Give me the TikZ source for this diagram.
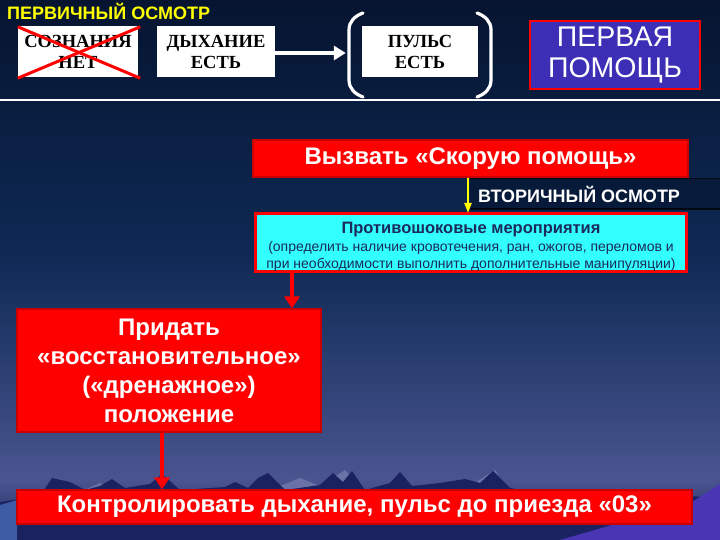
\documentclass[tikz,border=0pt]{standalone}
\usepackage{fontspec}
\setmainfont{Liberation Sans}
\newfontfamily\tnr{Liberation Serif}
\usetikzlibrary{arrows.meta}
\definecolor{bgtop}{HTML}{061430}
\definecolor{bgmid}{HTML}{0E2A55}
\definecolor{bghor}{HTML}{4A5590}
\definecolor{bgground}{HTML}{1C2660}
\definecolor{mount}{HTML}{1A2360}
\definecolor{snow}{HTML}{6A72A8}
\definecolor{lila}{HTML}{4A36B5}
\definecolor{slope}{HTML}{3D5AA5}
\definecolor{ppfill}{HTML}{3D2FB5}
\definecolor{redd}{HTML}{FF0000}
\definecolor{redb}{HTML}{C80000}
\definecolor{cyanf}{HTML}{33FFFF}
\definecolor{navyt}{HTML}{1A2A5A}
\definecolor{strip}{HTML}{081A3A}
\definecolor{titley}{HTML}{FFFF00}
\tikzset{
  whitebox/.style={fill=white, inner sep=0pt, align=center, text=black,
    font=\tnr\bfseries\fontsize{18.5}{21}\selectfont},
  redbox/.style={fill=redd, draw=redb, line width=1.2pt, inner sep=0pt,
    align=center, text=white, font=\bfseries\fontsize{24}{29}\selectfont},
  redarrow/.style={draw=redd, line width=4pt, -{Triangle[width=15pt,length=12pt]}},
  paren/.style={draw=white, line width=3.2pt, line cap=round},
}
\begin{document}
\begin{tikzpicture}[x=1pt,y=-1pt]
\useasboundingbox (0,0) rectangle (720,540);
% background
\fill[top color=bgtop, bottom color=bgmid] (0,0) rectangle (720,261);
\fill[top color=bgmid, bottom color=bghor] (0,260) rectangle (720,481);
\fill[top color=bghor, bottom color=bgground] (0,480) rectangle (720,540);
% snowy slopes
\fill[snow] (80,492) -- (100,483) -- (115,490) -- cycle;
\fill[snow] (270,490) -- (300,478) -- (330,490) -- cycle;
\fill[snow] (320,486) -- (345,470) -- (360,486) -- cycle;
\fill[snow] (470,486) -- (495,470) -- (505,486) -- cycle;
% mountains
\fill[mount] (0,502) -- (40,496) -- (52,478) -- (70,482) -- (85,490) -- (100,486)
  -- (112,479) -- (125,488) -- (150,484) -- (162,474) -- (180,490) -- (225,487)
  -- (235,482) -- (248,488) -- (258,478) -- (268,473) -- (285,490) -- (320,485)
  -- (333,473) -- (343,482) -- (352,471) -- (365,490) -- (390,483) -- (400,472)
  -- (412,486) -- (440,483) -- (465,479) -- (480,483) -- (493,471) -- (510,488)
  -- (540,493) -- (720,497) -- (720,540) -- (0,540) -- cycle;
\fill[lila] (560,540) -- (692,502) -- (720,484) -- (720,540) -- cycle;
\fill[slope] (0,505) -- (17,500) -- (17,540) -- (0,540) -- cycle;
% title and top line
\node[anchor=base west, inner sep=0pt, text=titley, font=\bfseries\fontsize{18}{20}\selectfont]
  (title) at (7,20) {ПЕРВИЧНЫЙ ОСМОТР};
\coordinate (lineL) at (0,100);
\coordinate (lineR) at (720,100);
\draw[white, line width=2pt] (lineL) -- (lineR);
% top boxes
\node[whitebox, minimum width=120pt, minimum height=51pt] (soz) at (78,51.5) {СОЗНАНИЯ\\НЕТ};
\draw[redd, line width=3pt] ([shift={(0,1)}]soz.north west) -- ([shift={(2,1)}]soz.south east);
\draw[redd, line width=3pt] ([shift={(0,1)}]soz.south west) -- ([shift={(2,1)}]soz.north east);
\node[whitebox, minimum width=118pt, minimum height=51pt] (dyh) at (216,51.5) {ДЫХАНИЕ\\ЕСТЬ};
\node[whitebox, minimum width=116pt, minimum height=51pt] (puls) at (420,51.5) {ПУЛЬС\\ЕСТЬ};
\draw[white, line width=3.5pt, -{Triangle[width=14pt,length=12pt]}]
  ([yshift=-1.5pt]dyh.east) -- ([xshift=-16pt,yshift=-1.5pt]puls.west);
\draw[paren] (363,13) to[out=200,in=90] (349,30) -- (349,80) to[out=-90,in=160] (363,97);
\draw[paren] (477,13) to[out=-20,in=90] (491,30) -- (491,80) to[out=-90,in=20] (477,97);
\node[fill=ppfill, draw=redd, line width=2.5pt, minimum width=170pt, minimum height=68pt,
  inner sep=0pt, align=center, text=white, font=\fontsize{28.5}{31}\selectfont]
  (pp) at (615,55) {ПЕРВАЯ\\ПОМОЩЬ};
% second section
\node[redbox, minimum width=435pt, minimum height=37pt, font=\bfseries\fontsize{24}{25}\selectfont]
  (vyz) at (470.5,158.5) {Вызвать «Скорую помощь»};
\fill[strip] (470,178) rectangle (720,209);
\draw[black!70!strip, line width=1.2pt] (470,178.5) -- (720,178.5);
\draw[black!70!strip, line width=1.2pt] (470,209) -- (720,209);
\node[anchor=west, inner sep=0pt, text=white, font=\bfseries\fontsize{18}{20}\selectfont]
  (vtor) at (478,194) {ВТОРИЧНЫЙ ОСМОТР};
\node[fill=cyanf, draw=redd, line width=3pt, minimum width=431pt, minimum height=58pt,
  inner sep=0pt] (proti) at (471,242.5) {};
\node[inner sep=0pt, align=center, text=navyt, font=\fontsize{14}{17.5}\selectfont]
  (protitext) at (471,247) {{\bfseries\fontsize{16.5}{17.5}\selectfont Противошоковые мероприятия}\\
  (определить наличие кровотечения, ран, ожогов, переломов и\\
  при необходимости выполнить дополнительные манипуляции)};
\coordinate (ya) at (468,0);
\draw[titley, line width=2pt, -{Triangle[width=7pt,length=10pt]}]
  (vyz.south -| ya) -- ([yshift=-1pt]proti.north -| ya);
\node[redbox, minimum width=304pt, minimum height=123pt] (pridat) at (169,370.5)
  {Придать\\«восстановительное»\\(«дренажное»)\\положение};
\coordinate (ra) at (292,0);
\draw[redarrow] (proti.south -| ra) -- (pridat.north -| ra);
\node[redbox, minimum width=675pt, minimum height=34pt] (kontrol) at (354.5,507)
  {Контролировать дыхание, пульс до приезда «03»};
\coordinate (rb) at (162,0);
\draw[redarrow] (pridat.south -| rb) -- (kontrol.north -| rb);
\end{tikzpicture}
\end{document}
